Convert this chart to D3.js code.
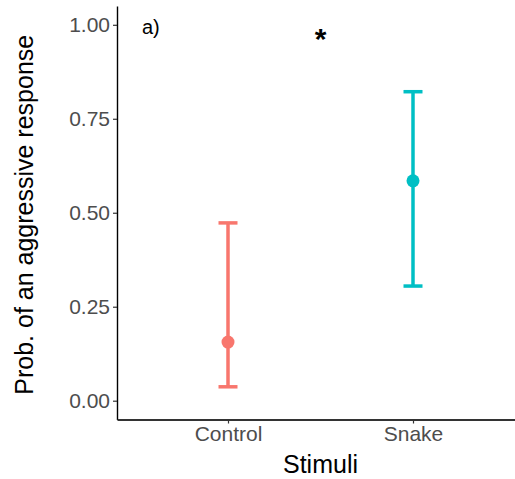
<!doctype html>
<html lang="en">
  <head>
    <meta charset="UTF-8" />
    <title>Prob. of an aggressive response by stimuli</title>
    <script src="https://d3js.org/d3.v7.min.js"></script>
    <style>
      body {
        margin: 0;
        padding: 0;
        background-color: #fff;
        font-family: 'Liberation Sans', Arial, sans-serif;
      }

      .tick-label {
        font-size: 21px;
        fill: #4d4d4d;
      }

      .axis-title {
        font-size: 25px;
        fill: #000;
      }
    </style>
  </head>
  <body>
    <div id="chart"></div>

    <script>
      // Data
      const stimuli = ['Control', 'Snake']
      const estimate = [0.156, 0.585]
      const lower = [0.037, 0.305]
      const upper = [0.473, 0.822]
      const colors = ['#F8766D', '#00BFC4']
      const yTicks = [0, 0.25, 0.5, 0.75, 1]

      const data = stimuli.map((s, i) => ({
        stim: s,
        est: estimate[i],
        lo: lower[i],
        hi: upper[i],
        color: colors[i],
      }))

      const W = 515
      const H = 479
      const panel = { left: 117, right: 524, top: 6, bottom: 419.5 }

      const svg = d3.select('#chart').append('svg').attr('width', W).attr('height', H)

      // ggplot style scales: discrete x with 0.6 expansion, y 0..1 plus 5%
      const x = d3
        .scalePoint()
        .domain(stimuli)
        .range([panel.left, panel.right])
        .padding(0.6)

      const y = d3.scaleLinear().domain([-0.05, 1.05]).range([panel.bottom, panel.top])

      // Axes
      const yAxis = svg
        .append('g')
        .attr('transform', `translate(${panel.left},0)`)
        .call(
          d3
            .axisLeft(y)
            .tickValues(yTicks)
            .tickFormat(d3.format('.2f'))
            .tickSize(4)
            .tickSizeOuter(0)
            .tickPadding(3)
        )
      yAxis.select('.domain').attr('stroke', '#000').attr('stroke-width', 1.4)
      yAxis.selectAll('.tick line').attr('stroke', '#333').attr('stroke-width', 1.2)
      yAxis
        .selectAll('.tick text')
        .attr('class', 'tick-label')

      const xAxis = svg
        .append('g')
        .attr('transform', `translate(0,${panel.bottom})`)
        .call(d3.axisBottom(x).tickSize(4).tickSizeOuter(0).tickPadding(3))
      xAxis.select('.domain').attr('stroke', '#333').attr('stroke-width', 1.8)
      xAxis.selectAll('.tick line').attr('stroke', '#333').attr('stroke-width', 1.2)
      xAxis
        .selectAll('.tick text')
        .attr('class', 'tick-label')

      // Axis titles
      svg
        .append('text')
        .attr('class', 'axis-title')
        .attr('text-anchor', 'middle')
        .attr('transform', `translate(33,${(panel.top + panel.bottom) / 2 + 2}) rotate(-90)`)
        .text('Prob. of an aggressive response')

      svg
        .append('text')
        .attr('class', 'axis-title')
        .attr('text-anchor', 'middle')
        .attr('x', (panel.left + panel.right) / 2)
        .attr('y', 473)
        .text('Stimuli')

      // Error bars
      const capHalf = 9.5
      const g = svg.append('g')

      g.selectAll('.bar')
        .data(data)
        .join('line')
        .attr('x1', (d) => x(d.stim))
        .attr('x2', (d) => x(d.stim))
        .attr('y1', (d) => y(d.lo))
        .attr('y2', (d) => y(d.hi))
        .attr('stroke', (d) => d.color)
        .attr('stroke-width', 3.5)

      g.selectAll('.cap-hi')
        .data(data)
        .join('line')
        .attr('x1', (d) => x(d.stim) - capHalf)
        .attr('x2', (d) => x(d.stim) + capHalf)
        .attr('y1', (d) => y(d.hi))
        .attr('y2', (d) => y(d.hi))
        .attr('stroke', (d) => d.color)
        .attr('stroke-width', 3.5)

      g.selectAll('.cap-lo')
        .data(data)
        .join('line')
        .attr('x1', (d) => x(d.stim) - capHalf)
        .attr('x2', (d) => x(d.stim) + capHalf)
        .attr('y1', (d) => y(d.lo))
        .attr('y2', (d) => y(d.lo))
        .attr('stroke', (d) => d.color)
        .attr('stroke-width', 3.5)

      g.selectAll('circle')
        .data(data)
        .join('circle')
        .attr('cx', (d) => x(d.stim))
        .attr('cy', (d) => y(d.est))
        .attr('r', 6.5)
        .attr('fill', (d) => d.color)

      // Panel label and significance star
      svg
        .append('text')
        .attr('x', 142)
        .attr('y', 34)
        .attr('font-size', 20)
        .attr('fill', '#000')
        .text('a)')

      svg
        .append('text')
        .attr('x', (x('Control') + x('Snake')) / 2)
        .attr('y', 49)
        .attr('text-anchor', 'middle')
        .attr('font-size', 30)
        .attr('font-weight', 'bold')
        .attr('fill', '#000')
        .text('*')
    </script>
  </body>
</html>
